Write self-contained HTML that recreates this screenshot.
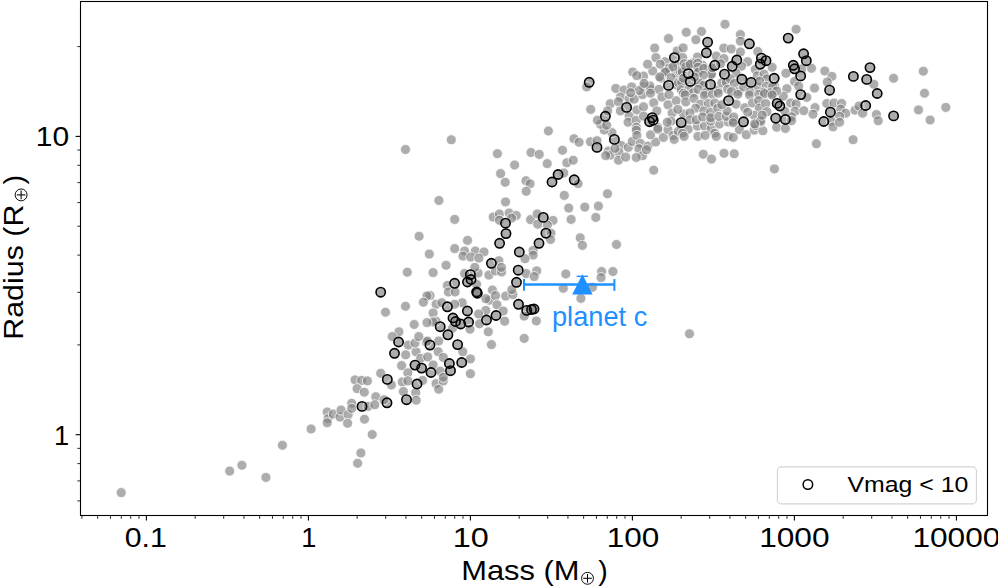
<!DOCTYPE html>
<html><head><meta charset="utf-8"><style>
html,body{margin:0;padding:0;background:#fff;}
svg{display:block;}
text{font-family:"Liberation Sans",sans-serif;}
</style></head><body>
<svg width="998" height="586" viewBox="0 0 998 586">
<rect width="998" height="586" fill="#fff"/>
<g fill="#808080" fill-opacity="0.645" stroke="#fff" stroke-opacity="0.85" stroke-width="0.9">
<circle cx="121.2" cy="492.6" r="5.0"/><circle cx="229.7" cy="471.1" r="5.0"/><circle cx="241.9" cy="465.3" r="5.0"/><circle cx="265.9" cy="477.4" r="5.0"/><circle cx="282.4" cy="445.3" r="5.0"/><circle cx="311.1" cy="429.0" r="5.0"/><circle cx="327.2" cy="412.0" r="5.0"/><circle cx="328.0" cy="418.7" r="5.0"/><circle cx="327.2" cy="422.8" r="5.0"/><circle cx="333.3" cy="414.1" r="5.0"/><circle cx="340.0" cy="417.1" r="5.0"/><circle cx="341.0" cy="410.0" r="5.0"/><circle cx="348.1" cy="414.6" r="5.0"/><circle cx="347.6" cy="423.3" r="5.0"/><circle cx="351.7" cy="403.3" r="5.0"/><circle cx="351.7" cy="408.4" r="5.0"/><circle cx="362.0" cy="406.4" r="5.0"/><circle cx="368.1" cy="406.4" r="5.0"/><circle cx="364.5" cy="419.2" r="5.0"/><circle cx="372.2" cy="434.5" r="5.0"/><circle cx="360.9" cy="453.0" r="5.0"/><circle cx="357.6" cy="463.3" r="5.0"/><circle cx="375.8" cy="396.7" r="5.0"/><circle cx="374.8" cy="404.8" r="5.0"/><circle cx="387.0" cy="402.8" r="5.0"/><circle cx="384.0" cy="399.7" r="5.0"/><circle cx="406.5" cy="399.7" r="5.0"/><circle cx="355.1" cy="379.9" r="5.0"/><circle cx="361.7" cy="380.4" r="5.0"/><circle cx="367.4" cy="380.9" r="5.0"/><circle cx="357.1" cy="388.6" r="5.0"/><circle cx="364.3" cy="392.2" r="5.0"/><circle cx="380.7" cy="373.3" r="5.0"/><circle cx="387.3" cy="379.4" r="5.0"/><circle cx="391.4" cy="385.0" r="5.0"/><circle cx="394.5" cy="353.3" r="5.0"/><circle cx="398.6" cy="342.0" r="5.0"/><circle cx="408.3" cy="345.1" r="5.0"/><circle cx="405.7" cy="354.8" r="5.0"/><circle cx="416.0" cy="351.8" r="5.0"/><circle cx="401.6" cy="365.6" r="5.0"/><circle cx="407.8" cy="372.8" r="5.0"/><circle cx="402.2" cy="382.0" r="5.0"/><circle cx="407.8" cy="380.9" r="5.0"/><circle cx="415.0" cy="365.1" r="5.0"/><circle cx="421.6" cy="368.1" r="5.0"/><circle cx="420.6" cy="358.4" r="5.0"/><circle cx="417.0" cy="384.0" r="5.0"/><circle cx="403.4" cy="391.5" r="5.0"/><circle cx="415.7" cy="392.6" r="5.0"/><circle cx="416.2" cy="400.2" r="5.0"/><circle cx="431.0" cy="372.5" r="5.0"/><circle cx="430.0" cy="345.1" r="5.0"/><circle cx="427.7" cy="356.9" r="5.0"/><circle cx="422.6" cy="380.4" r="5.0"/><circle cx="415.0" cy="343.0" r="5.0"/><circle cx="426.2" cy="342.0" r="5.0"/><circle cx="436.1" cy="383.6" r="5.0"/><circle cx="438.7" cy="389.2" r="5.0"/><circle cx="443.3" cy="381.0" r="5.0"/><circle cx="440.2" cy="326.7" r="5.0"/><circle cx="447.9" cy="334.8" r="5.0"/><circle cx="438.7" cy="341.0" r="5.0"/><circle cx="457.6" cy="344.6" r="5.0"/><circle cx="462.8" cy="351.7" r="5.0"/><circle cx="438.2" cy="351.7" r="5.0"/><circle cx="443.3" cy="357.4" r="5.0"/><circle cx="449.4" cy="363.5" r="5.0"/><circle cx="450.5" cy="370.7" r="5.0"/><circle cx="461.7" cy="362.5" r="5.0"/><circle cx="470.4" cy="358.9" r="5.0"/><circle cx="470.4" cy="373.7" r="5.0"/><circle cx="433.1" cy="365.0" r="5.0"/><circle cx="440.2" cy="371.2" r="5.0"/><circle cx="443.3" cy="377.3" r="5.0"/><circle cx="488.3" cy="331.8" r="5.0"/><circle cx="491.4" cy="344.6" r="5.0"/><circle cx="524.2" cy="338.4" r="5.0"/><circle cx="454.6" cy="283.3" r="5.0"/><circle cx="470.4" cy="274.6" r="5.0"/><circle cx="467.5" cy="282.0" r="5.0"/><circle cx="471.0" cy="279.5" r="5.0"/><circle cx="476.6" cy="292.0" r="5.0"/><circle cx="477.3" cy="293.2" r="5.0"/><circle cx="447.4" cy="306.8" r="5.0"/><circle cx="467.4" cy="311.0" r="5.0"/><circle cx="453.0" cy="318.0" r="5.0"/><circle cx="455.5" cy="321.5" r="5.0"/><circle cx="460.7" cy="324.0" r="5.0"/><circle cx="468.6" cy="322.0" r="5.0"/><circle cx="486.5" cy="320.0" r="5.0"/><circle cx="496.0" cy="315.5" r="5.0"/><circle cx="516.5" cy="282.3" r="5.0"/><circle cx="518.2" cy="270.2" r="5.0"/><circle cx="518.5" cy="304.3" r="5.0"/><circle cx="526.7" cy="310.4" r="5.0"/><circle cx="433.1" cy="272.6" r="5.0"/><circle cx="447.4" cy="285.4" r="5.0"/><circle cx="448.4" cy="292.0" r="5.0"/><circle cx="455.1" cy="292.0" r="5.0"/><circle cx="462.2" cy="302.8" r="5.0"/><circle cx="436.1" cy="304.3" r="5.0"/><circle cx="441.8" cy="302.8" r="5.0"/><circle cx="454.6" cy="304.3" r="5.0"/><circle cx="433.1" cy="313.0" r="5.0"/><circle cx="436.1" cy="321.2" r="5.0"/><circle cx="476.6" cy="284.3" r="5.0"/><circle cx="478.1" cy="273.1" r="5.0"/><circle cx="488.9" cy="275.1" r="5.0"/><circle cx="495.5" cy="271.0" r="5.0"/><circle cx="501.6" cy="272.0" r="5.0"/><circle cx="492.4" cy="290.0" r="5.0"/><circle cx="489.4" cy="300.2" r="5.0"/><circle cx="495.5" cy="295.6" r="5.0"/><circle cx="485.8" cy="298.7" r="5.0"/><circle cx="497.0" cy="304.8" r="5.0"/><circle cx="485.8" cy="310.4" r="5.0"/><circle cx="478.6" cy="314.0" r="5.0"/><circle cx="503.2" cy="311.0" r="5.0"/><circle cx="504.7" cy="321.2" r="5.0"/><circle cx="479.5" cy="323.8" r="5.0"/><circle cx="505.7" cy="296.1" r="5.0"/><circle cx="512.9" cy="294.6" r="5.0"/><circle cx="526.2" cy="273.6" r="5.0"/><circle cx="524.2" cy="316.1" r="5.0"/><circle cx="430.0" cy="295.6" r="5.0"/><circle cx="452.5" cy="328.2" r="5.0"/><circle cx="470.0" cy="329.2" r="5.0"/><circle cx="433.0" cy="322.0" r="5.0"/><circle cx="380.7" cy="292.2" r="5.0"/><circle cx="407.3" cy="272.2" r="5.0"/><circle cx="429.3" cy="254.1" r="5.0"/><circle cx="427.0" cy="295.9" r="5.0"/><circle cx="423.4" cy="302.2" r="5.0"/><circle cx="405.5" cy="306.3" r="5.0"/><circle cx="385.5" cy="312.2" r="5.0"/><circle cx="414.2" cy="324.5" r="5.0"/><circle cx="427.0" cy="322.6" r="5.0"/><circle cx="398.9" cy="331.8" r="5.0"/><circle cx="392.2" cy="336.5" r="5.0"/><circle cx="418.8" cy="336.5" r="5.0"/><circle cx="427.5" cy="341.1" r="5.0"/><circle cx="438.9" cy="200.5" r="5.0"/><circle cx="454.7" cy="219.4" r="5.0"/><circle cx="419.1" cy="236.3" r="5.0"/><circle cx="467.5" cy="240.4" r="5.0"/><circle cx="454.7" cy="248.6" r="5.0"/><circle cx="506.0" cy="233.6" r="5.0"/><circle cx="499.6" cy="243.3" r="5.0"/><circle cx="519.3" cy="252.0" r="5.0"/><circle cx="539.0" cy="243.3" r="5.0"/><circle cx="491.4" cy="263.3" r="5.0"/><circle cx="464.6" cy="251.0" r="5.0"/><circle cx="463.0" cy="256.1" r="5.0"/><circle cx="475.3" cy="251.0" r="5.0"/><circle cx="484.0" cy="252.0" r="5.0"/><circle cx="470.7" cy="257.1" r="5.0"/><circle cx="478.9" cy="258.1" r="5.0"/><circle cx="446.1" cy="265.3" r="5.0"/><circle cx="474.8" cy="267.4" r="5.0"/><circle cx="464.6" cy="273.5" r="5.0"/><circle cx="498.9" cy="260.7" r="5.0"/><circle cx="501.4" cy="267.4" r="5.0"/><circle cx="533.1" cy="250.5" r="5.0"/><circle cx="533.1" cy="255.1" r="5.0"/><circle cx="525.0" cy="258.7" r="5.0"/><circle cx="536.7" cy="270.9" r="5.0"/><circle cx="534.2" cy="276.6" r="5.0"/><circle cx="500.6" cy="173.6" r="5.0"/><circle cx="505.2" cy="182.3" r="5.0"/><circle cx="526.0" cy="180.7" r="5.0"/><circle cx="530.1" cy="183.8" r="5.0"/><circle cx="526.2" cy="191.3" r="5.0"/><circle cx="505.5" cy="201.9" r="5.0"/><circle cx="493.2" cy="217.1" r="5.0"/><circle cx="499.4" cy="214.0" r="5.0"/><circle cx="499.4" cy="220.2" r="5.0"/><circle cx="509.1" cy="213.0" r="5.0"/><circle cx="516.3" cy="215.5" r="5.0"/><circle cx="511.6" cy="218.1" r="5.0"/><circle cx="505.5" cy="223.2" r="5.0"/><circle cx="530.6" cy="219.6" r="5.0"/><circle cx="537.2" cy="214.0" r="5.0"/><circle cx="537.7" cy="224.2" r="5.0"/><circle cx="552.0" cy="182.0" r="5.0"/><circle cx="574.2" cy="179.8" r="5.0"/><circle cx="578.1" cy="183.6" r="5.0"/><circle cx="564.3" cy="195.4" r="5.0"/><circle cx="607.5" cy="193.8" r="5.0"/><circle cx="568.7" cy="208.1" r="5.0"/><circle cx="584.8" cy="207.1" r="5.0"/><circle cx="598.4" cy="206.1" r="5.0"/><circle cx="571.1" cy="219.4" r="5.0"/><circle cx="595.8" cy="217.4" r="5.0"/><circle cx="543.3" cy="217.4" r="5.0"/><circle cx="553.0" cy="220.4" r="5.0"/><circle cx="547.4" cy="225.0" r="5.0"/><circle cx="545.9" cy="233.2" r="5.0"/><circle cx="551.0" cy="233.2" r="5.0"/><circle cx="580.2" cy="237.8" r="5.0"/><circle cx="550.5" cy="239.5" r="5.0"/><circle cx="582.4" cy="245.4" r="5.0"/><circle cx="616.5" cy="244.5" r="5.0"/><circle cx="565.8" cy="274.0" r="5.0"/><circle cx="601.6" cy="271.5" r="5.0"/><circle cx="601.1" cy="277.6" r="5.0"/><circle cx="612.9" cy="271.5" r="5.0"/><circle cx="563.3" cy="288.3" r="5.0"/><circle cx="592.4" cy="287.3" r="5.0"/><circle cx="580.9" cy="298.4" r="5.0"/><circle cx="511.8" cy="289.7" r="5.0"/><circle cx="531.5" cy="309.5" r="5.0"/><circle cx="534.0" cy="309.0" r="5.0"/><circle cx="536.3" cy="320.9" r="5.0"/><circle cx="548.4" cy="131.0" r="5.0"/><circle cx="531.0" cy="152.5" r="5.0"/><circle cx="539.2" cy="154.4" r="5.0"/><circle cx="547.2" cy="163.6" r="5.0"/><circle cx="562.5" cy="150.3" r="5.0"/><circle cx="574.0" cy="138.7" r="5.0"/><circle cx="579.1" cy="142.3" r="5.0"/><circle cx="590.4" cy="141.8" r="5.0"/><circle cx="597.0" cy="140.7" r="5.0"/><circle cx="597.0" cy="147.4" r="5.0"/><circle cx="566.8" cy="162.8" r="5.0"/><circle cx="573.2" cy="160.2" r="5.0"/><circle cx="563.8" cy="173.0" r="5.0"/><circle cx="558.1" cy="174.5" r="5.0"/><circle cx="614.4" cy="139.4" r="5.0"/><circle cx="611.9" cy="132.6" r="5.0"/><circle cx="621.1" cy="145.4" r="5.0"/><circle cx="628.3" cy="147.4" r="5.0"/><circle cx="608.3" cy="151.0" r="5.0"/><circle cx="610.3" cy="155.1" r="5.0"/><circle cx="605.7" cy="155.6" r="5.0"/><circle cx="619.0" cy="152.5" r="5.0"/><circle cx="615.0" cy="148.4" r="5.0"/><circle cx="618.5" cy="160.2" r="5.0"/><circle cx="625.7" cy="157.1" r="5.0"/><circle cx="604.2" cy="130.0" r="5.0"/><circle cx="451.3" cy="139.8" r="5.0"/><circle cx="497.4" cy="153.7" r="5.0"/><circle cx="514.6" cy="165.0" r="5.0"/><circle cx="405.5" cy="149.5" r="5.0"/><circle cx="589.2" cy="82.3" r="5.0"/><circle cx="626.6" cy="107.4" r="5.0"/><circle cx="605.4" cy="116.3" r="5.0"/><circle cx="668.5" cy="85.4" r="5.0"/><circle cx="652.2" cy="117.6" r="5.0"/><circle cx="649.6" cy="121.7" r="5.0"/><circle cx="653.2" cy="120.2" r="5.0"/><circle cx="586.7" cy="86.9" r="5.0"/><circle cx="590.7" cy="109.4" r="5.0"/><circle cx="610.2" cy="103.8" r="5.0"/><circle cx="615.8" cy="88.4" r="5.0"/><circle cx="624.0" cy="90.0" r="5.0"/><circle cx="631.7" cy="86.9" r="5.0"/><circle cx="620.4" cy="97.1" r="5.0"/><circle cx="629.1" cy="98.7" r="5.0"/><circle cx="634.2" cy="99.2" r="5.0"/><circle cx="618.4" cy="101.7" r="5.0"/><circle cx="620.4" cy="110.9" r="5.0"/><circle cx="629.1" cy="116.1" r="5.0"/><circle cx="628.1" cy="122.2" r="5.0"/><circle cx="636.3" cy="120.2" r="5.0"/><circle cx="636.8" cy="109.9" r="5.0"/><circle cx="643.5" cy="106.8" r="5.0"/><circle cx="642.4" cy="94.6" r="5.0"/><circle cx="643.5" cy="86.4" r="5.0"/><circle cx="650.6" cy="89.4" r="5.0"/><circle cx="653.7" cy="102.8" r="5.0"/><circle cx="656.8" cy="110.9" r="5.0"/><circle cx="643.5" cy="116.1" r="5.0"/><circle cx="632.7" cy="72.0" r="5.0"/><circle cx="643.5" cy="76.1" r="5.0"/><circle cx="636.8" cy="75.6" r="5.0"/><circle cx="652.7" cy="71.0" r="5.0"/><circle cx="660.9" cy="78.2" r="5.0"/><circle cx="665.0" cy="72.0" r="5.0"/><circle cx="658.8" cy="89.4" r="5.0"/><circle cx="661.9" cy="97.1" r="5.0"/><circle cx="668.0" cy="104.8" r="5.0"/><circle cx="676.2" cy="100.7" r="5.0"/><circle cx="677.2" cy="85.4" r="5.0"/><circle cx="676.2" cy="73.1" r="5.0"/><circle cx="672.1" cy="113.0" r="5.0"/><circle cx="671.1" cy="121.2" r="5.0"/><circle cx="657.8" cy="127.3" r="5.0"/><circle cx="636.3" cy="127.3" r="5.0"/><circle cx="600.5" cy="124.2" r="5.0"/><circle cx="606.6" cy="125.3" r="5.0"/><circle cx="597.4" cy="120.2" r="5.0"/><circle cx="607.6" cy="110.9" r="5.0"/><circle cx="639.4" cy="90.5" r="5.0"/><circle cx="669.0" cy="94.6" r="5.0"/><circle cx="668.5" cy="38.5" r="5.0"/><circle cx="654.7" cy="48.1" r="5.0"/><circle cx="655.9" cy="57.6" r="5.0"/><circle cx="647.6" cy="64.2" r="5.0"/><circle cx="665.0" cy="61.7" r="5.0"/><circle cx="660.3" cy="64.2" r="5.0"/><circle cx="674.4" cy="57.6" r="5.0"/><circle cx="677.2" cy="50.9" r="5.0"/><circle cx="677.7" cy="64.2" r="5.0"/><circle cx="669.0" cy="68.3" r="5.0"/><circle cx="707.6" cy="42.2" r="5.0"/><circle cx="706.4" cy="52.8" r="5.0"/><circle cx="714.8" cy="65.3" r="5.0"/><circle cx="736.8" cy="60.0" r="5.0"/><circle cx="732.2" cy="66.3" r="5.0"/><circle cx="749.4" cy="43.8" r="5.0"/><circle cx="761.4" cy="58.1" r="5.0"/><circle cx="766.0" cy="60.7" r="5.0"/><circle cx="760.3" cy="64.2" r="5.0"/><circle cx="686.3" cy="32.3" r="5.0"/><circle cx="701.5" cy="31.5" r="5.0"/><circle cx="725.0" cy="24.3" r="5.0"/><circle cx="695.9" cy="39.7" r="5.0"/><circle cx="740.4" cy="34.6" r="5.0"/><circle cx="740.4" cy="41.2" r="5.0"/><circle cx="683.1" cy="47.9" r="5.0"/><circle cx="723.8" cy="48.1" r="5.0"/><circle cx="731.2" cy="48.9" r="5.0"/><circle cx="740.4" cy="52.0" r="5.0"/><circle cx="757.8" cy="51.5" r="5.0"/><circle cx="716.3" cy="56.1" r="5.0"/><circle cx="724.0" cy="58.6" r="5.0"/><circle cx="747.6" cy="61.7" r="5.0"/><circle cx="697.4" cy="57.1" r="5.0"/><circle cx="695.4" cy="65.3" r="5.0"/><circle cx="702.5" cy="65.3" r="5.0"/><circle cx="741.4" cy="66.3" r="5.0"/><circle cx="772.1" cy="67.3" r="5.0"/><circle cx="688.4" cy="73.7" r="5.0"/><circle cx="690.4" cy="81.4" r="5.0"/><circle cx="710.5" cy="84.4" r="5.0"/><circle cx="724.5" cy="74.2" r="5.0"/><circle cx="741.9" cy="79.3" r="5.0"/><circle cx="751.1" cy="82.4" r="5.0"/><circle cx="774.2" cy="78.3" r="5.0"/><circle cx="728.6" cy="100.6" r="5.0"/><circle cx="777.2" cy="103.4" r="5.0"/><circle cx="779.8" cy="106.0" r="5.0"/><circle cx="775.7" cy="118.2" r="5.0"/><circle cx="743.5" cy="121.8" r="5.0"/><circle cx="681.2" cy="122.6" r="5.0"/><circle cx="632.2" cy="141.5" r="5.0"/><circle cx="636.3" cy="130.2" r="5.0"/><circle cx="636.8" cy="135.4" r="5.0"/><circle cx="640.4" cy="143.5" r="5.0"/><circle cx="638.9" cy="148.7" r="5.0"/><circle cx="642.4" cy="155.8" r="5.0"/><circle cx="636.3" cy="157.4" r="5.0"/><circle cx="648.1" cy="146.1" r="5.0"/><circle cx="646.5" cy="149.7" r="5.0"/><circle cx="655.7" cy="142.0" r="5.0"/><circle cx="650.6" cy="134.8" r="5.0"/><circle cx="657.8" cy="129.2" r="5.0"/><circle cx="663.4" cy="137.4" r="5.0"/><circle cx="668.0" cy="129.7" r="5.0"/><circle cx="673.1" cy="135.4" r="5.0"/><circle cx="674.2" cy="139.4" r="5.0"/><circle cx="653.7" cy="170.2" r="5.0"/><circle cx="678.3" cy="131.3" r="5.0"/><circle cx="688.2" cy="129.2" r="5.0"/><circle cx="682.6" cy="133.3" r="5.0"/><circle cx="684.1" cy="136.4" r="5.0"/><circle cx="697.4" cy="126.1" r="5.0"/><circle cx="704.6" cy="126.1" r="5.0"/><circle cx="711.2" cy="128.7" r="5.0"/><circle cx="714.8" cy="133.3" r="5.0"/><circle cx="716.3" cy="136.4" r="5.0"/><circle cx="697.9" cy="136.4" r="5.0"/><circle cx="705.1" cy="135.4" r="5.0"/><circle cx="719.4" cy="124.1" r="5.0"/><circle cx="710.7" cy="121.0" r="5.0"/><circle cx="728.1" cy="136.4" r="5.0"/><circle cx="733.2" cy="137.4" r="5.0"/><circle cx="739.4" cy="129.7" r="5.0"/><circle cx="746.3" cy="134.8" r="5.0"/><circle cx="754.2" cy="130.2" r="5.0"/><circle cx="755.2" cy="125.6" r="5.0"/><circle cx="762.9" cy="130.7" r="5.0"/><circle cx="760.9" cy="122.0" r="5.0"/><circle cx="776.7" cy="127.2" r="5.0"/><circle cx="703.3" cy="154.3" r="5.0"/><circle cx="711.5" cy="159.1" r="5.0"/><circle cx="724.0" cy="153.3" r="5.0"/><circle cx="734.2" cy="153.8" r="5.0"/><circle cx="774.4" cy="168.9" r="5.0"/><circle cx="728.1" cy="122.0" r="5.0"/><circle cx="733.2" cy="121.0" r="5.0"/><circle cx="796.1" cy="29.2" r="5.0"/><circle cx="788.2" cy="38.1" r="5.0"/><circle cx="803.6" cy="53.8" r="5.0"/><circle cx="806.3" cy="60.7" r="5.0"/><circle cx="793.3" cy="65.3" r="5.0"/><circle cx="794.6" cy="68.8" r="5.0"/><circle cx="870.0" cy="67.6" r="5.0"/><circle cx="811.5" cy="68.3" r="5.0"/><circle cx="824.8" cy="71.0" r="5.0"/><circle cx="801.7" cy="68.9" r="5.0"/><circle cx="800.7" cy="75.9" r="5.0"/><circle cx="853.4" cy="76.4" r="5.0"/><circle cx="866.7" cy="79.4" r="5.0"/><circle cx="829.6" cy="90.2" r="5.0"/><circle cx="800.7" cy="94.6" r="5.0"/><circle cx="830.4" cy="112.2" r="5.0"/><circle cx="865.7" cy="105.5" r="5.0"/><circle cx="785.4" cy="119.5" r="5.0"/><circle cx="823.8" cy="121.5" r="5.0"/><circle cx="831.9" cy="76.4" r="5.0"/><circle cx="827.3" cy="82.0" r="5.0"/><circle cx="814.5" cy="88.1" r="5.0"/><circle cx="785.9" cy="73.3" r="5.0"/><circle cx="794.6" cy="81.5" r="5.0"/><circle cx="786.9" cy="88.7" r="5.0"/><circle cx="774.6" cy="86.1" r="5.0"/><circle cx="798.7" cy="86.1" r="5.0"/><circle cx="783.3" cy="96.3" r="5.0"/><circle cx="772.6" cy="93.8" r="5.0"/><circle cx="806.8" cy="97.4" r="5.0"/><circle cx="790.5" cy="103.0" r="5.0"/><circle cx="796.1" cy="104.0" r="5.0"/><circle cx="815.0" cy="107.6" r="5.0"/><circle cx="826.8" cy="103.5" r="5.0"/><circle cx="834.0" cy="103.0" r="5.0"/><circle cx="841.6" cy="103.5" r="5.0"/><circle cx="840.6" cy="109.1" r="5.0"/><circle cx="845.7" cy="113.2" r="5.0"/><circle cx="839.6" cy="116.3" r="5.0"/><circle cx="855.0" cy="110.2" r="5.0"/><circle cx="859.0" cy="106.1" r="5.0"/><circle cx="862.6" cy="113.2" r="5.0"/><circle cx="795.1" cy="111.2" r="5.0"/><circle cx="803.8" cy="110.7" r="5.0"/><circle cx="813.0" cy="114.2" r="5.0"/><circle cx="784.8" cy="111.2" r="5.0"/><circle cx="791.5" cy="116.8" r="5.0"/><circle cx="785.4" cy="128.4" r="5.0"/><circle cx="791.5" cy="120.7" r="5.0"/><circle cx="831.4" cy="121.3" r="5.0"/><circle cx="833.0" cy="126.9" r="5.0"/><circle cx="839.6" cy="122.3" r="5.0"/><circle cx="816.4" cy="143.8" r="5.0"/><circle cx="853.1" cy="139.7" r="5.0"/><circle cx="893.6" cy="78.3" r="5.0"/><circle cx="923.3" cy="71.2" r="5.0"/><circle cx="877.2" cy="93.5" r="5.0"/><circle cx="893.6" cy="115.9" r="5.0"/><circle cx="873.8" cy="84.3" r="5.0"/><circle cx="924.5" cy="93.3" r="5.0"/><circle cx="918.5" cy="109.9" r="5.0"/><circle cx="945.8" cy="107.4" r="5.0"/><circle cx="930.1" cy="120.0" r="5.0"/><circle cx="876.4" cy="114.5" r="5.0"/><circle cx="878.2" cy="120.7" r="5.0"/><circle cx="682.6" cy="57.6" r="5.0"/><circle cx="684.2" cy="63.8" r="5.0"/><circle cx="692.4" cy="62.9" r="5.0"/><circle cx="698.1" cy="71.9" r="5.0"/><circle cx="680.1" cy="71.1" r="5.0"/><circle cx="672.8" cy="67.0" r="5.0"/><circle cx="665.4" cy="72.0" r="5.0"/><circle cx="659.7" cy="76.9" r="5.0"/><circle cx="671.1" cy="77.7" r="5.0"/><circle cx="678.5" cy="82.6" r="5.0"/><circle cx="711.3" cy="74.4" r="5.0"/><circle cx="649.8" cy="85.9" r="5.0"/><circle cx="699.0" cy="82.6" r="5.0"/><circle cx="682.3" cy="71.9" r="5.0"/><circle cx="685.8" cy="66.6" r="5.0"/><circle cx="690.2" cy="64.3" r="5.0"/><circle cx="697.7" cy="63.2" r="5.0"/><circle cx="698.0" cy="67.2" r="5.0"/><circle cx="698.6" cy="71.9" r="5.0"/><circle cx="703.8" cy="68.4" r="5.0"/><circle cx="711.3" cy="74.2" r="5.0"/><circle cx="712.5" cy="67.8" r="5.0"/><circle cx="703.2" cy="75.3" r="5.0"/><circle cx="699.1" cy="82.9" r="5.0"/><circle cx="703.8" cy="85.2" r="5.0"/><circle cx="681.7" cy="82.3" r="5.0"/><circle cx="681.2" cy="89.8" r="5.0"/><circle cx="688.7" cy="89.3" r="5.0"/><circle cx="683.5" cy="93.3" r="5.0"/><circle cx="693.3" cy="92.7" r="5.0"/><circle cx="698.0" cy="89.3" r="5.0"/><circle cx="705.5" cy="92.7" r="5.0"/><circle cx="717.7" cy="90.4" r="5.0"/><circle cx="721.8" cy="82.9" r="5.0"/><circle cx="726.4" cy="82.3" r="5.0"/><circle cx="727.6" cy="89.3" r="5.0"/><circle cx="720.6" cy="63.7" r="5.0"/><circle cx="694.5" cy="77.1" r="5.0"/><circle cx="683.5" cy="78.2" r="5.0"/><circle cx="755.3" cy="69.5" r="5.0"/><circle cx="736.1" cy="73.0" r="5.0"/><circle cx="757.3" cy="75.9" r="5.0"/><circle cx="764.0" cy="74.2" r="5.0"/><circle cx="766.9" cy="78.8" r="5.0"/><circle cx="730.3" cy="78.8" r="5.0"/><circle cx="734.4" cy="83.5" r="5.0"/><circle cx="738.4" cy="91.6" r="5.0"/><circle cx="743.7" cy="87.0" r="5.0"/><circle cx="750.0" cy="91.6" r="5.0"/><circle cx="758.7" cy="87.5" r="5.0"/><circle cx="759.6" cy="81.1" r="5.0"/><circle cx="766.3" cy="86.4" r="5.0"/><circle cx="772.7" cy="86.4" r="5.0"/><circle cx="763.4" cy="92.2" r="5.0"/><circle cx="770.3" cy="92.7" r="5.0"/><circle cx="776.7" cy="91.0" r="5.0"/><circle cx="731.5" cy="91.6" r="5.0"/><circle cx="685.2" cy="94.9" r="5.0"/><circle cx="685.8" cy="101.9" r="5.0"/><circle cx="693.9" cy="98.4" r="5.0"/><circle cx="704.4" cy="95.5" r="5.0"/><circle cx="712.5" cy="94.3" r="5.0"/><circle cx="718.3" cy="93.2" r="5.0"/><circle cx="700.3" cy="104.2" r="5.0"/><circle cx="708.4" cy="103.6" r="5.0"/><circle cx="714.8" cy="103.0" r="5.0"/><circle cx="695.7" cy="108.2" r="5.0"/><circle cx="703.8" cy="111.1" r="5.0"/><circle cx="710.7" cy="112.3" r="5.0"/><circle cx="717.7" cy="108.2" r="5.0"/><circle cx="683.5" cy="114.0" r="5.0"/><circle cx="689.9" cy="112.9" r="5.0"/><circle cx="689.9" cy="119.8" r="5.0"/><circle cx="696.2" cy="119.8" r="5.0"/><circle cx="702.6" cy="117.0" r="5.0"/><circle cx="710.7" cy="117.8" r="5.0"/><circle cx="718.9" cy="116.4" r="5.0"/><circle cx="726.4" cy="116.4" r="5.0"/><circle cx="727.0" cy="111.1" r="5.0"/><circle cx="721.8" cy="104.8" r="5.0"/><circle cx="737.9" cy="94.3" r="5.0"/><circle cx="749.5" cy="94.9" r="5.0"/><circle cx="758.7" cy="94.3" r="5.0"/><circle cx="764.5" cy="93.7" r="5.0"/><circle cx="772.1" cy="94.9" r="5.0"/><circle cx="736.1" cy="104.2" r="5.0"/><circle cx="744.8" cy="107.7" r="5.0"/><circle cx="752.4" cy="103.0" r="5.0"/><circle cx="758.7" cy="100.7" r="5.0"/><circle cx="759.3" cy="108.2" r="5.0"/><circle cx="765.7" cy="103.6" r="5.0"/><circle cx="766.9" cy="111.7" r="5.0"/><circle cx="754.1" cy="115.2" r="5.0"/><circle cx="760.5" cy="121.0" r="5.0"/><circle cx="754.7" cy="123.9" r="5.0"/><circle cx="733.8" cy="117.0" r="5.0"/><circle cx="747.7" cy="112.3" r="5.0"/><circle cx="762.2" cy="115.2" r="5.0"/><circle cx="733.2" cy="122.7" r="5.0"/><circle cx="644.1" cy="83.5" r="5.0"/><circle cx="630.7" cy="92.7" r="5.0"/><circle cx="667.3" cy="122.2" r="5.0"/><circle cx="677.8" cy="109.4" r="5.0"/><circle cx="650.5" cy="93.2" r="5.0"/><circle cx="689.5" cy="333.8" r="5.0"/>
</g>
<g fill="none" stroke="#000" stroke-width="1.6">
<circle cx="362.0" cy="406.4" r="4.65"/><circle cx="387.0" cy="402.8" r="4.65"/><circle cx="406.5" cy="399.7" r="4.65"/><circle cx="387.3" cy="379.4" r="4.65"/><circle cx="394.5" cy="353.3" r="4.65"/><circle cx="398.6" cy="342.0" r="4.65"/><circle cx="415.0" cy="365.1" r="4.65"/><circle cx="421.6" cy="368.1" r="4.65"/><circle cx="417.0" cy="384.0" r="4.65"/><circle cx="431.0" cy="372.5" r="4.65"/><circle cx="430.0" cy="345.1" r="4.65"/><circle cx="440.2" cy="326.7" r="4.65"/><circle cx="447.9" cy="334.8" r="4.65"/><circle cx="457.6" cy="344.6" r="4.65"/><circle cx="449.4" cy="363.5" r="4.65"/><circle cx="450.5" cy="370.7" r="4.65"/><circle cx="461.7" cy="362.5" r="4.65"/><circle cx="454.6" cy="283.3" r="4.65"/><circle cx="470.4" cy="274.6" r="4.65"/><circle cx="467.5" cy="282.0" r="4.65"/><circle cx="471.0" cy="279.5" r="4.65"/><circle cx="476.6" cy="292.0" r="4.65"/><circle cx="477.3" cy="293.2" r="4.65"/><circle cx="447.4" cy="306.8" r="4.65"/><circle cx="467.4" cy="311.0" r="4.65"/><circle cx="453.0" cy="318.0" r="4.65"/><circle cx="455.5" cy="321.5" r="4.65"/><circle cx="460.7" cy="324.0" r="4.65"/><circle cx="468.6" cy="322.0" r="4.65"/><circle cx="486.5" cy="320.0" r="4.65"/><circle cx="496.0" cy="315.5" r="4.65"/><circle cx="516.5" cy="282.3" r="4.65"/><circle cx="518.2" cy="270.2" r="4.65"/><circle cx="518.5" cy="304.3" r="4.65"/><circle cx="526.7" cy="310.4" r="4.65"/><circle cx="380.7" cy="292.2" r="4.65"/><circle cx="506.0" cy="233.6" r="4.65"/><circle cx="499.6" cy="243.3" r="4.65"/><circle cx="519.3" cy="252.0" r="4.65"/><circle cx="539.0" cy="243.3" r="4.65"/><circle cx="491.4" cy="263.3" r="4.65"/><circle cx="505.5" cy="223.2" r="4.65"/><circle cx="552.0" cy="182.0" r="4.65"/><circle cx="574.2" cy="179.8" r="4.65"/><circle cx="543.3" cy="217.4" r="4.65"/><circle cx="545.9" cy="233.2" r="4.65"/><circle cx="531.5" cy="309.5" r="4.65"/><circle cx="534.0" cy="309.0" r="4.65"/><circle cx="597.0" cy="147.4" r="4.65"/><circle cx="558.1" cy="174.5" r="4.65"/><circle cx="614.4" cy="139.4" r="4.65"/><circle cx="589.2" cy="82.3" r="4.65"/><circle cx="626.6" cy="107.4" r="4.65"/><circle cx="605.4" cy="116.3" r="4.65"/><circle cx="668.5" cy="85.4" r="4.65"/><circle cx="652.2" cy="117.6" r="4.65"/><circle cx="649.6" cy="121.7" r="4.65"/><circle cx="653.2" cy="120.2" r="4.65"/><circle cx="674.4" cy="57.6" r="4.65"/><circle cx="707.6" cy="42.2" r="4.65"/><circle cx="706.4" cy="52.8" r="4.65"/><circle cx="714.8" cy="65.3" r="4.65"/><circle cx="736.8" cy="60.0" r="4.65"/><circle cx="732.2" cy="66.3" r="4.65"/><circle cx="749.4" cy="43.8" r="4.65"/><circle cx="761.4" cy="58.1" r="4.65"/><circle cx="766.0" cy="60.7" r="4.65"/><circle cx="760.3" cy="64.2" r="4.65"/><circle cx="688.4" cy="73.7" r="4.65"/><circle cx="690.4" cy="81.4" r="4.65"/><circle cx="710.5" cy="84.4" r="4.65"/><circle cx="724.5" cy="74.2" r="4.65"/><circle cx="741.9" cy="79.3" r="4.65"/><circle cx="751.1" cy="82.4" r="4.65"/><circle cx="774.2" cy="78.3" r="4.65"/><circle cx="728.6" cy="100.6" r="4.65"/><circle cx="777.2" cy="103.4" r="4.65"/><circle cx="779.8" cy="106.0" r="4.65"/><circle cx="775.7" cy="118.2" r="4.65"/><circle cx="743.5" cy="121.8" r="4.65"/><circle cx="681.2" cy="122.6" r="4.65"/><circle cx="788.2" cy="38.1" r="4.65"/><circle cx="803.6" cy="53.8" r="4.65"/><circle cx="806.3" cy="60.7" r="4.65"/><circle cx="793.3" cy="65.3" r="4.65"/><circle cx="794.6" cy="68.8" r="4.65"/><circle cx="870.0" cy="67.6" r="4.65"/><circle cx="800.7" cy="75.9" r="4.65"/><circle cx="853.4" cy="76.4" r="4.65"/><circle cx="866.7" cy="79.4" r="4.65"/><circle cx="829.6" cy="90.2" r="4.65"/><circle cx="800.7" cy="94.6" r="4.65"/><circle cx="830.4" cy="112.2" r="4.65"/><circle cx="865.7" cy="105.5" r="4.65"/><circle cx="785.4" cy="119.5" r="4.65"/><circle cx="823.8" cy="121.5" r="4.65"/><circle cx="877.2" cy="93.5" r="4.65"/><circle cx="893.6" cy="115.9" r="4.65"/>
</g>
<!-- planet c -->
<g stroke="#1e90ff" fill="none">
<line x1="524" y1="284.5" x2="614.4" y2="284.5" stroke-width="2.3"/>
<line x1="524" y1="279.1" x2="524" y2="290.8" stroke-width="2.0"/>
<line x1="614.4" y1="279.1" x2="614.4" y2="290.8" stroke-width="2.0"/>
<line x1="582.4" y1="276.3" x2="582.4" y2="292.4" stroke-width="1.4"/>
<line x1="576.65" y1="276.3" x2="587.9" y2="276.3" stroke-width="1.4"/>
</g>
<path d="M582.4 274.2 L592.6 294.6 L572.2 294.6 Z" fill="#1e90ff"/>
<text x="552" y="325.5" font-size="27.2" fill="#1e90ff">planet c</text>
<rect x="80.5" y="1.5" width="907" height="514" fill="none" stroke="#000" stroke-width="1.1"/>
<line x1="81.93" y1="515.5" x2="81.93" y2="518.8" stroke="#000" stroke-width="0.83"/><line x1="97.63" y1="515.5" x2="97.63" y2="518.8" stroke="#000" stroke-width="0.83"/><line x1="110.46" y1="515.5" x2="110.46" y2="518.8" stroke="#000" stroke-width="0.83"/><line x1="121.31" y1="515.5" x2="121.31" y2="518.8" stroke="#000" stroke-width="0.83"/><line x1="130.70" y1="515.5" x2="130.70" y2="518.8" stroke="#000" stroke-width="0.83"/><line x1="138.99" y1="515.5" x2="138.99" y2="518.8" stroke="#000" stroke-width="0.83"/><line x1="146.40" y1="515.5" x2="146.40" y2="520.4" stroke="#000" stroke-width="1.1"/><line x1="195.17" y1="515.5" x2="195.17" y2="518.8" stroke="#000" stroke-width="0.83"/><line x1="223.69" y1="515.5" x2="223.69" y2="518.8" stroke="#000" stroke-width="0.83"/><line x1="243.93" y1="515.5" x2="243.93" y2="518.8" stroke="#000" stroke-width="0.83"/><line x1="259.63" y1="515.5" x2="259.63" y2="518.8" stroke="#000" stroke-width="0.83"/><line x1="272.46" y1="515.5" x2="272.46" y2="518.8" stroke="#000" stroke-width="0.83"/><line x1="283.31" y1="515.5" x2="283.31" y2="518.8" stroke="#000" stroke-width="0.83"/><line x1="292.70" y1="515.5" x2="292.70" y2="518.8" stroke="#000" stroke-width="0.83"/><line x1="300.99" y1="515.5" x2="300.99" y2="518.8" stroke="#000" stroke-width="0.83"/><line x1="308.40" y1="515.5" x2="308.40" y2="520.4" stroke="#000" stroke-width="1.1"/><line x1="357.17" y1="515.5" x2="357.17" y2="518.8" stroke="#000" stroke-width="0.83"/><line x1="385.69" y1="515.5" x2="385.69" y2="518.8" stroke="#000" stroke-width="0.83"/><line x1="405.93" y1="515.5" x2="405.93" y2="518.8" stroke="#000" stroke-width="0.83"/><line x1="421.63" y1="515.5" x2="421.63" y2="518.8" stroke="#000" stroke-width="0.83"/><line x1="434.46" y1="515.5" x2="434.46" y2="518.8" stroke="#000" stroke-width="0.83"/><line x1="445.31" y1="515.5" x2="445.31" y2="518.8" stroke="#000" stroke-width="0.83"/><line x1="454.70" y1="515.5" x2="454.70" y2="518.8" stroke="#000" stroke-width="0.83"/><line x1="462.99" y1="515.5" x2="462.99" y2="518.8" stroke="#000" stroke-width="0.83"/><line x1="470.40" y1="515.5" x2="470.40" y2="520.4" stroke="#000" stroke-width="1.1"/><line x1="519.17" y1="515.5" x2="519.17" y2="518.8" stroke="#000" stroke-width="0.83"/><line x1="547.69" y1="515.5" x2="547.69" y2="518.8" stroke="#000" stroke-width="0.83"/><line x1="567.93" y1="515.5" x2="567.93" y2="518.8" stroke="#000" stroke-width="0.83"/><line x1="583.63" y1="515.5" x2="583.63" y2="518.8" stroke="#000" stroke-width="0.83"/><line x1="596.46" y1="515.5" x2="596.46" y2="518.8" stroke="#000" stroke-width="0.83"/><line x1="607.31" y1="515.5" x2="607.31" y2="518.8" stroke="#000" stroke-width="0.83"/><line x1="616.70" y1="515.5" x2="616.70" y2="518.8" stroke="#000" stroke-width="0.83"/><line x1="624.99" y1="515.5" x2="624.99" y2="518.8" stroke="#000" stroke-width="0.83"/><line x1="632.40" y1="515.5" x2="632.40" y2="520.4" stroke="#000" stroke-width="1.1"/><line x1="681.17" y1="515.5" x2="681.17" y2="518.8" stroke="#000" stroke-width="0.83"/><line x1="709.69" y1="515.5" x2="709.69" y2="518.8" stroke="#000" stroke-width="0.83"/><line x1="729.93" y1="515.5" x2="729.93" y2="518.8" stroke="#000" stroke-width="0.83"/><line x1="745.63" y1="515.5" x2="745.63" y2="518.8" stroke="#000" stroke-width="0.83"/><line x1="758.46" y1="515.5" x2="758.46" y2="518.8" stroke="#000" stroke-width="0.83"/><line x1="769.31" y1="515.5" x2="769.31" y2="518.8" stroke="#000" stroke-width="0.83"/><line x1="778.70" y1="515.5" x2="778.70" y2="518.8" stroke="#000" stroke-width="0.83"/><line x1="786.99" y1="515.5" x2="786.99" y2="518.8" stroke="#000" stroke-width="0.83"/><line x1="794.40" y1="515.5" x2="794.40" y2="520.4" stroke="#000" stroke-width="1.1"/><line x1="843.17" y1="515.5" x2="843.17" y2="518.8" stroke="#000" stroke-width="0.83"/><line x1="871.69" y1="515.5" x2="871.69" y2="518.8" stroke="#000" stroke-width="0.83"/><line x1="891.93" y1="515.5" x2="891.93" y2="518.8" stroke="#000" stroke-width="0.83"/><line x1="907.63" y1="515.5" x2="907.63" y2="518.8" stroke="#000" stroke-width="0.83"/><line x1="920.46" y1="515.5" x2="920.46" y2="518.8" stroke="#000" stroke-width="0.83"/><line x1="931.31" y1="515.5" x2="931.31" y2="518.8" stroke="#000" stroke-width="0.83"/><line x1="940.70" y1="515.5" x2="940.70" y2="518.8" stroke="#000" stroke-width="0.83"/><line x1="948.99" y1="515.5" x2="948.99" y2="518.8" stroke="#000" stroke-width="0.83"/><line x1="956.40" y1="515.5" x2="956.40" y2="520.4" stroke="#000" stroke-width="1.1"/><line x1="80.5" y1="500.88" x2="77.3" y2="500.88" stroke="#000" stroke-width="0.83"/><line x1="80.5" y1="480.91" x2="77.3" y2="480.91" stroke="#000" stroke-width="0.83"/><line x1="80.5" y1="463.61" x2="77.3" y2="463.61" stroke="#000" stroke-width="0.83"/><line x1="80.5" y1="448.35" x2="77.3" y2="448.35" stroke="#000" stroke-width="0.83"/><line x1="80.5" y1="434.70" x2="75.6" y2="434.70" stroke="#000" stroke-width="1.1"/><line x1="80.5" y1="344.90" x2="77.3" y2="344.90" stroke="#000" stroke-width="0.83"/><line x1="80.5" y1="292.37" x2="77.3" y2="292.37" stroke="#000" stroke-width="0.83"/><line x1="80.5" y1="255.11" x2="77.3" y2="255.11" stroke="#000" stroke-width="0.83"/><line x1="80.5" y1="226.20" x2="77.3" y2="226.20" stroke="#000" stroke-width="0.83"/><line x1="80.5" y1="202.58" x2="77.3" y2="202.58" stroke="#000" stroke-width="0.83"/><line x1="80.5" y1="182.61" x2="77.3" y2="182.61" stroke="#000" stroke-width="0.83"/><line x1="80.5" y1="165.31" x2="77.3" y2="165.31" stroke="#000" stroke-width="0.83"/><line x1="80.5" y1="150.05" x2="77.3" y2="150.05" stroke="#000" stroke-width="0.83"/><line x1="80.5" y1="136.40" x2="75.6" y2="136.40" stroke="#000" stroke-width="1.1"/><line x1="80.5" y1="46.60" x2="77.3" y2="46.60" stroke="#000" stroke-width="0.83"/>
<g font-size="27.2" fill="#000">
<text transform="translate(145.7,547) scale(1.114,1)" x="0" y="0" text-anchor="middle">0.1</text><text transform="translate(308.8,547) scale(1.0,1)" x="0" y="0" text-anchor="middle">1</text><text transform="translate(470.85,547) scale(1.19,1)" x="0" y="0" text-anchor="middle">10</text><text transform="translate(632.9,547) scale(1.157,1)" x="0" y="0" text-anchor="middle">100</text><text transform="translate(794.35,547) scale(1.163,1)" x="0" y="0" text-anchor="middle">1000</text><text transform="translate(956.4,547) scale(1.164,1)" x="0" y="0" text-anchor="middle">10000</text>
<text transform="translate(69.2,146.4) scale(1.104,1)" text-anchor="end">10</text>
<text x="69" y="444.7" text-anchor="end">1</text>
</g>
<text transform="translate(461.2,580.3) scale(1.082,1)" font-size="28.5">Mass (M</text><circle cx="587.5" cy="578.3" r="5.95" fill="none" stroke="#000" stroke-width="0.95"/><line x1="583.20" y1="578.3" x2="591.80" y2="578.3" stroke="#000" stroke-width="1.05"/><line x1="587.5" y1="574.00" x2="587.5" y2="582.60" stroke="#000" stroke-width="1.05"/><text x="598.3" y="580.3" font-size="28.5">)</text>
<text transform="translate(22.8,339.8) rotate(-90) scale(1.067,1)" font-size="28.5">Radius (R</text><circle cx="21.1" cy="194.9" r="5.95" fill="none" stroke="#000" stroke-width="0.95"/><line x1="16.80" y1="194.9" x2="25.40" y2="194.9" stroke="#000" stroke-width="1.05"/><line x1="21.1" y1="190.60" x2="21.1" y2="199.20" stroke="#000" stroke-width="1.05"/><text transform="translate(22.8,184.5) rotate(-90)" font-size="28.5">)</text>
<!-- legend -->
<rect x="777.4" y="466.9" width="199" height="37" rx="4" fill="#fff" fill-opacity="0.8" stroke="#d3d3d3" stroke-width="1.1"/>
<circle cx="807.9" cy="484.5" r="4.75" fill="none" stroke="#000" stroke-width="1.5"/>
<text transform="translate(847.4,491.7) scale(1.162,1)" font-size="21.4">Vmag &lt; 10</text>
</svg>
</body></html>
